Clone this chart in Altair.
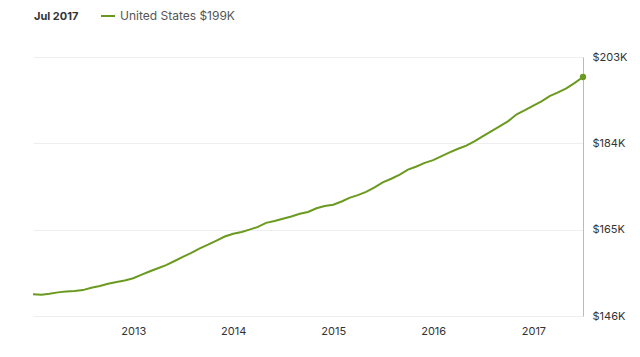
import altair as alt
import pandas as pd

months = pd.date_range("2012-01-01", "2017-07-01", freq="MS").strftime("%Y-%m-%d").tolist()
values_k = [
    150.8, 150.7, 150.9, 151.2, 151.4, 151.5, 151.7, 152.2, 152.6, 153.1, 153.5, 153.8,
    154.3, 155.1, 155.8, 156.5, 157.2, 158.1, 159.0, 159.9, 160.9, 161.7, 162.6, 163.5,
    164.1, 164.5, 165.0, 165.6, 166.5, 166.9, 167.4, 167.9, 168.5, 168.9, 169.7, 170.2,
    170.5, 171.2, 172.0, 172.6, 173.3, 174.3, 175.4, 176.2, 177.1, 178.2, 178.9, 179.7,
    180.3, 181.2, 182.0, 182.8, 183.5, 184.5, 185.6, 186.7, 187.8, 188.9, 190.4, 191.3,
    192.3, 193.3, 194.4, 195.2, 196.1, 197.3, 198.6,
]
series_name = "United States $199K"
header_label = ["Jul 2017"]
y_ticks = [146, 165, 184, 203]
x_ticks = ["2013-01-01", "2014-01-01", "2015-01-01", "2016-01-01", "2017-01-01"]

GREEN = "#6a9a1f"
FONT = "Inter"

df = pd.DataFrame({"date": months, "value": values_k, "series": series_name})
last = df.tail(1)
hdr = pd.DataFrame({"label": header_label})

x_enc = alt.X(
    "date:T",
    scale=alt.Scale(domain=[months[0], months[-1]]),
    axis=alt.Axis(
        values=[pd.Timestamp(v).value // 10**6 for v in x_ticks],
        format="%Y",
        domain=False,
        ticks=False,
        grid=False,
        labelPadding=9,
        labelFontSize=11,
        labelColor="#333333",
        labelFont=FONT,
        title=None,
    ),
)
y_enc = alt.Y(
    "value:Q",
    scale=alt.Scale(domain=[146, 203], nice=False, zero=False),
    axis=alt.Axis(
        orient="right",
        values=y_ticks,
        labelExpr="'$' + datum.value + 'K'",
        domain=True,
        domainColor="#bbbbbb",
        domainWidth=1,
        ticks=False,
        grid=True,
        gridColor="#eeeeee",
        labelPadding=9,
        labelFontSize=11,
        labelColor="#333333",
        labelFont=FONT,
        title=None,
    ),
)

line = alt.Chart(df).mark_line(strokeWidth=2).encode(
    x=x_enc,
    y=y_enc,
    color=alt.Color(
        "series:N",
        scale=alt.Scale(range=[GREEN]),
        legend=alt.Legend(
            orient="none",
            legendX=67,
            legendY=-49,
            title=None,
            symbolType="stroke",
            symbolSize=196,
            symbolStrokeWidth=2,
            labelFontSize=12,
            labelColor="#555555",
            labelFont=FONT,
            labelOffset=4,
        ),
    ),
)

dot = alt.Chart(last).mark_point(filled=True, size=40, color=GREEN, opacity=1).encode(
    x="date:T", y="value:Q"
)

header = alt.Chart(hdr).mark_text(
    align="left", baseline="middle", fontSize=11, fontWeight="bold", color="#333333", font=FONT
).encode(x=alt.value(1), y=alt.value(-40), text="label:N")

chart = (
    alt.layer(line, dot, header)
    .properties(
        width=550,
        height=259,
        padding={"left": 33, "top": 57, "right": 57, "bottom": 41},
        autosize=alt.AutoSizeParams(type="none"),
        background="white",
    )
    .configure_view(stroke=None)
)

chart.save("out.html", embed_options={"renderer": "svg", "actions": False})
